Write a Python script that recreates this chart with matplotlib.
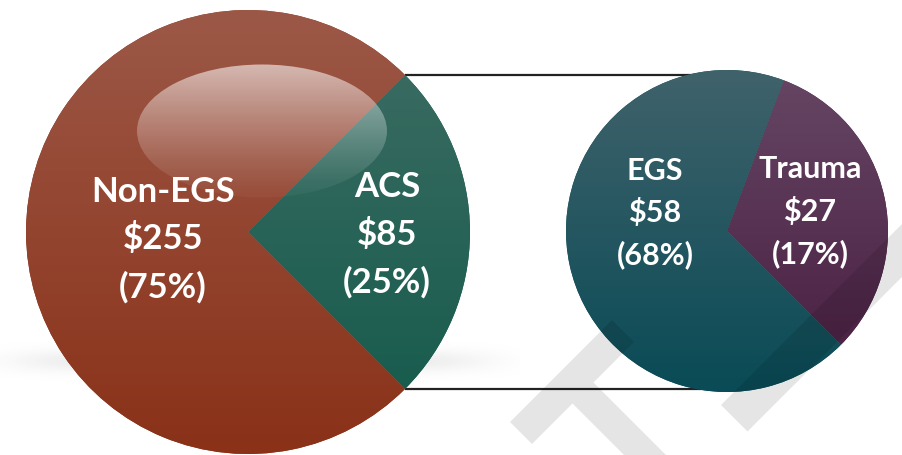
import matplotlib.pyplot as plt
import numpy as np
from matplotlib.patches import Ellipse, Polygon

W, H = 902, 456

# data
outer_labels = ['ACS', 'Non-EGS']
outer_values = [85, 255]
outer_money = ['$85', '$255']
outer_pcts = ['(25%)', '(75%)']

inner_labels = ['Trauma', 'EGS']
inner_values = [27, 58]
inner_money = ['$27', '$58']
inner_pcts = ['(17%)', '(68%)']

# gradient colours (top, bottom) per slice
outer_grad = [('#3f6d64', '#125a4b'), ('#9c5847', '#8a3118')]
inner_grad = [('#664664', '#481d40'), ('#40626b', '#094b56')]


def py(y):
    # pixel row -> data y
    return H - y


def grad_fill(ax, patch, top, bottom, y_top, y_bot, x0, x1, z):
    t = np.linspace(0, 1, 256)[:, None, None]
    c0 = np.array(plt.matplotlib.colors.to_rgb(top))
    c1 = np.array(plt.matplotlib.colors.to_rgb(bottom))
    img = c0 * (1 - t) + c1 * t
    im = ax.imshow(img, extent=[x0, x1, y_bot, y_top], origin='upper',
                   aspect='auto', zorder=z, interpolation='bilinear')
    im.set_clip_path(patch)


def band(s0, s1, d0, d1):
    pts = []
    for s, d in [(s0, d0), (s0, d1), (s1, d1), (s1, d0)]:
        x = (s + d) / 2
        y = (s - d) / 2
        pts.append((x, py(y)))
    return pts


fig = plt.figure(figsize=(W / 100, H / 100), dpi=100)
ax = fig.add_axes([0, 0, 1, 1])

# soft shadow under left pie
gx = np.linspace(0, 520, 400)
gy = np.linspace(py(400), py(320), 80)
X, Y = np.meshgrid(gx, gy)
alpha = 0.18 * np.exp(-((X - 250) / 232) ** 6) * np.exp(-((Y - py(362)) / 11) ** 2)
shadow = np.zeros(X.shape + (4,))
shadow[..., :3] = 0.55
shadow[..., 3] = alpha
ax.imshow(shadow, extent=[0, 520, py(400), py(320)], origin='lower',
          aspect='auto', zorder=1)

# left pie
c1 = (248, py(233))
r1 = 222
w1, _ = ax.pie(outer_values, startangle=-45, center=c1, radius=r1,
               colors=[g[1] for g in outer_grad], frame=True,
               wedgeprops=dict(linewidth=0, zorder=3))
for w, g in zip(w1, outer_grad):
    grad_fill(ax, w, g[0], g[1], c1[1] + r1, c1[1] - r1,
              c1[0] - r1, c1[0] + r1, 3.5)

# right pie
c2 = (727, py(232))
r2 = 161
w2, _ = ax.pie(inner_values, startangle=-45, center=c2, radius=r2,
               colors=[g[1] for g in inner_grad], frame=True,
               wedgeprops=dict(linewidth=0, zorder=3))
for w, g in zip(w2, inner_grad):
    grad_fill(ax, w, g[0], g[1], c2[1] + r2, c2[1] - r2,
              c2[0] - r2, c2[0] + r2, 3.5)

# connector lines from the ACS slice to the breakdown pie
acs = w1[0]
for ang in (acs.theta2, acs.theta1):
    x0 = c1[0] + r1 * np.cos(np.radians(ang))
    y0 = c1[1] + r1 * np.sin(np.radians(ang))
    ax.plot([x0, c2[0]], [y0, y0], color='#222222', lw=1.6, zorder=2,
            solid_capstyle='butt')

# glossy highlight
gloss = Ellipse((262, py(132)), 250, 133, facecolor='none', edgecolor='none')
ax.add_patch(gloss)
t = np.linspace(0, 1, 200)[:, None]
hl = np.zeros((200, 1, 4))
hl[..., :3] = 1.0
hl[..., 3] = (0.55 * (1 - t) ** 1.3 + 0.04)
im = ax.imshow(hl, extent=[137, 387, py(199), py(65)], origin='upper',
               aspect='auto', zorder=4, interpolation='bilinear')
im.set_clip_path(gloss)

# faint watermark
for pts in [band(933, 977, 87, 291), band(977, 1300, 168, 210),
            band(1127, 1180, 315, 700)]:
    ax.add_patch(Polygon(pts, closed=True, facecolor='black', alpha=0.1,
                         edgecolor='none', zorder=5))

# labels
font = 'Lato'
left_pos = {'ACS': (387, [197, 245, 293]), 'Non-EGS': (163, [202, 249, 298])}
for lab, money, pct in zip(outer_labels, outer_money, outer_pcts):
    x, ys = left_pos[lab]
    for txt, yy in zip([lab, money, pct], ys):
        ax.text(x, py(yy), txt, ha='center', va='baseline', color='white',
                fontsize=25, fontweight='bold', family=font, zorder=6)

right_pos = {'Trauma': (810, [178, 221, 263]), 'EGS': (655, [180, 222, 264])}
for lab, money, pct in zip(inner_labels, inner_money, inner_pcts):
    x, ys = right_pos[lab]
    for txt, yy in zip([lab, money, pct], ys):
        ax.text(x, py(yy), txt, ha='center', va='baseline', color='white',
                fontsize=22, fontweight='bold', family=font, zorder=6)

ax.set_xlim(0, W)
ax.set_ylim(0, H)
ax.set_aspect('equal')
ax.axis('off')
fig.savefig('out.png', dpi=100, facecolor='white')
